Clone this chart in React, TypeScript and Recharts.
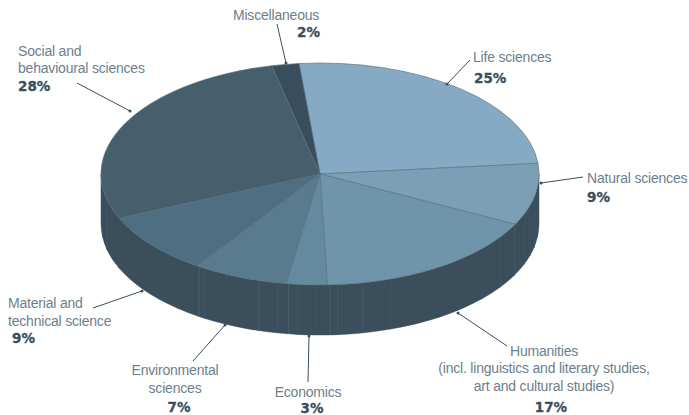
import React from 'react';
import { PieChart, Pie } from 'recharts';

const WIDTH = 689;
const HEIGHT = 415;

// slices, clockwise from the back of the disc
const categories = [
  ['Life sciences'],
  ['Natural sciences'],
  ['Humanities', '(incl. linguistics and literary studies,', 'art and cultural studies)'],
  ['Economics'],
  ['Environmental', 'sciences'],
  ['Material and', 'technical science'],
  ['Social and', 'behavioural sciences'],
  ['Miscellaneous'],
];
const shares = [25, 9, 17, 3, 7, 9, 28, 2];
const sliceColors = ['#87aac4', '#7c9fb6', '#7095aa', '#658a9f', '#5a7a8e', '#506e81', '#475e6c', '#394e5c'];

// side wall pieces in degrees, each one ends at a faint seam
const wallSpans = [107.7, 4.3, 4.8, 6.3, 7.1, 7.2, 29.2, 7.8, 6.6, 1.9, 3.9, 4.7, 2.4, 2.9, 5.1, 4.2, 5.1, 6, 1.9, 6.8, 26.2, 10.1, 97.8];
const brightSeams = [9, 12, 18];

const sliceData = shares.map((value, i) => ({ name: categories[i][0], value, fill: sliceColors[i] }));
const wallData = wallSpans.map((value, i) => ({ name: `wall-${i}`, value }));

// disc geometry
const CX = 320;
const CY = 174;
const RX = 219;
const RY = 111;
const DEPTH = 50;
const START_ANGLE = 95.5;

const WALL_COLOR = '#3a4e5c';
const TEXT_COLOR = '#6c808c';
const LABEL_FONT = '"Liberation Sans", Arial, sans-serif';
const VALUE_FONT = '"DejaVu Sans", sans-serif';

// where each label sits: name lines, value, leader line (from text to disc)
const labelLayout = [
  { x: 473, ys: [62], anchor: 'start', vx: 474, vy: 83, vAnchor: 'start', from: [470, 60], to: [447, 84] },
  { x: 587, ys: [183], anchor: 'start', vx: 587, vy: 202, vAnchor: 'start', from: [583, 177], to: [541, 183] },
  { x: 544, ys: [356, 373, 391], anchor: 'middle', vx: 551, vy: 412, vAnchor: 'middle', from: [507, 346], to: [458, 313] },
  { x: 308, ys: [397], anchor: 'middle', vx: 312, vy: 413, vAnchor: 'middle', from: [308, 382], to: [309, 336] },
  { x: 175, ys: [375, 393], anchor: 'middle', vx: 179, vy: 412, vAnchor: 'middle', from: [193, 361], to: [225, 325] },
  { x: 8, ys: [308, 326], anchor: 'start', vx: 12, vy: 343, vAnchor: 'start', from: [93, 308], to: [142, 291] },
  { x: 18, ys: [56, 73], anchor: 'start', vx: 18, vy: 91, vAnchor: 'start', from: [77, 83], to: [130, 111] },
  { x: 233, ys: [20], anchor: 'start', vx: 297, vy: 37, vAnchor: 'start', from: [277, 24], to: [286, 63] },
];

const pt = (deg: number, dy = 0) => {
  const rad = (deg * Math.PI) / 180;
  return [CX + RX * Math.cos(rad), CY + dy - RY * Math.sin(rad)];
};

// top face: the library's angles laid onto the ellipse
const TopSlice = (props: any) => {
  const a0 = Math.max(props.startAngle, props.endAngle);
  const a1 = Math.min(props.startAngle, props.endAngle);
  const [x0, y0] = pt(a0);
  const [x1, y1] = pt(a1);
  const large = a0 - a1 > 180 ? 1 : 0;
  return (
    <path
      d={`M${CX},${CY} L${x0},${y0} A${RX},${RY} 0 ${large} 1 ${x1},${y1} Z`}
      fill={props.fill}
      stroke="#566f7f"
      strokeWidth={0.6}
    />
  );
};

// side wall: only the front half of the disc shows
const WallPiece = (props: any) => {
  const hi = Math.max(props.startAngle, props.endAngle);
  const lo = Math.min(props.startAngle, props.endAngle);
  const a0 = Math.min(hi, 0);
  const a1 = Math.max(lo, -180);
  if (a0 <= a1) return <g />;
  const [x0, y0] = pt(a0);
  const [x1, y1] = pt(a1);
  const [x2, y2] = pt(a1, DEPTH);
  const [x3, y3] = pt(a0, DEPTH);
  const seam = lo > -180;
  return (
    <g>
      <path
        d={`M${x0},${y0} A${RX},${RY} 0 0 1 ${x1},${y1} L${x2},${y2} A${RX},${RY} 0 0 0 ${x3},${y3} Z`}
        fill={WALL_COLOR}
        stroke={WALL_COLOR}
        strokeWidth={0.5}
      />
      {seam && (
        <line
          x1={x1}
          y1={y1}
          x2={x2}
          y2={y2}
          stroke={brightSeams.includes(props.index) ? '#7e97a8' : '#4f6675'}
          strokeWidth={0.6}
        />
      )}
    </g>
  );
};

const SliceLabel = (props: any) => {
  const i = props.index;
  const l = labelLayout[i];
  return (
    <g>
      <line x1={l.from[0]} y1={l.from[1]} x2={l.to[0]} y2={l.to[1]} stroke={WALL_COLOR} strokeWidth={1} />
      <circle cx={l.to[0]} cy={l.to[1]} r={1.5} fill={WALL_COLOR} />
      {categories[i].map((line, k) => (
        <text key={k} x={l.x} y={l.ys[k]} textAnchor={l.anchor as any} fontFamily={LABEL_FONT} fontSize={14} fontWeight={400} letterSpacing={-0.2} fill={TEXT_COLOR}>
          {line}
        </text>
      ))}
      <text x={l.vx} y={l.vy} textAnchor={l.vAnchor as any} fontFamily={VALUE_FONT} fontSize={13.5} fontWeight={700} stroke={WALL_COLOR} strokeWidth={0.3} fill={WALL_COLOR}>
        {`${shares[i]}%`}
      </text>
    </g>
  );
};

export default function App() {
  return (
    <div style={{ position: 'absolute', left: 0, top: 0, width: WIDTH, height: HEIGHT, background: '#fff' }}>
      <PieChart width={WIDTH} height={HEIGHT} margin={{ top: 0, right: 0, bottom: 0, left: 0 }}>
        <Pie
          data={wallData}
          dataKey="value"
          cx={CX}
          cy={CY}
          innerRadius={0}
          outerRadius={RX}
          startAngle={START_ANGLE}
          endAngle={START_ANGLE - 360}
          shape={WallPiece}
          isAnimationActive={false}
        />
        <Pie
          data={sliceData}
          dataKey="value"
          cx={CX}
          cy={CY}
          innerRadius={0}
          outerRadius={RX}
          startAngle={START_ANGLE}
          endAngle={START_ANGLE - 360}
          shape={TopSlice}
          label={SliceLabel}
          labelLine={false}
          isAnimationActive={false}
        />
      </PieChart>
    </div>
  );
}
